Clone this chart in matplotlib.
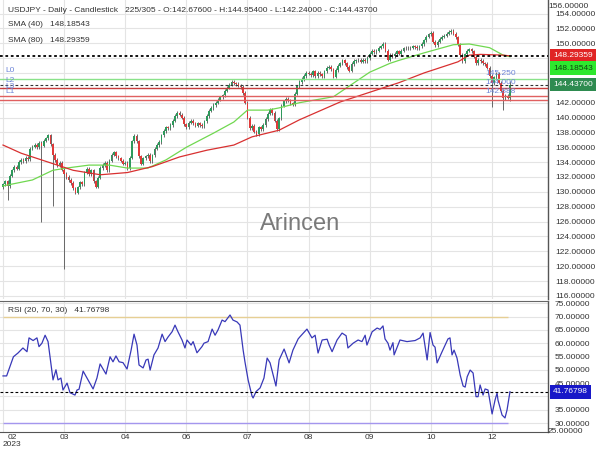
import matplotlib
matplotlib.use('Agg')
import matplotlib.pyplot as plt
import numpy as np
from matplotlib.transforms import blended_transform_factory

plt.rcParams['font.family'] = ['Liberation Sans', 'DejaVu Sans']

# ---------------- data ----------------
closes = [
    131.0, 131.4, 130.8, 132.2, 132.9, 133.4, 133.1, 134.0, 134.3, 134.1, 134.6, 134.4, 135.8, 136.1, 136.3,
    136.0, 136.6, 136.2, 136.9, 137.2, 137.6, 136.4, 135.0, 134.3, 133.6, 133.9, 133.0, 132.4, 132.0, 131.6,
    131.2, 130.5, 129.9, 130.6, 131.3, 131.0, 132.6, 133.1, 132.4, 132.9, 131.4, 130.7, 131.9, 133.2, 133.6,
    133.9, 132.9, 134.2, 135.0, 135.3, 134.8, 134.5, 134.2, 133.8, 133.9, 133.2, 134.6, 136.8, 137.5, 136.8,
    134.8, 133.8, 134.5, 134.8, 135.0, 134.1, 134.9, 135.8, 136.3, 136.7, 137.6, 138.2, 138.7, 138.6, 139.0,
    139.6, 140.2, 140.6, 140.4, 140.0, 139.1, 138.7, 139.3, 139.6, 139.2, 138.9, 139.2, 139.0, 138.8, 139.5,
    140.2, 140.9, 141.3, 141.7, 142.0, 142.4, 142.7, 143.0, 143.6, 144.0, 144.4, 144.8, 144.6, 144.5, 144.3,
    144.1, 143.3, 142.0, 140.0, 138.6, 138.9, 138.1, 137.8, 138.7, 138.4, 139.0, 139.8, 140.5, 141.0, 140.6,
    139.6, 138.4, 139.9, 141.6, 142.2, 142.5, 142.3, 141.9, 141.8, 143.2, 144.2, 144.8, 145.2, 145.6, 146.0,
    145.9, 145.7, 146.2, 145.6, 146.0, 145.8, 145.6, 146.2, 146.7, 146.8, 146.5, 145.5, 146.4, 147.0, 147.3,
    147.7, 147.3, 146.8, 146.3, 147.2, 147.6, 147.7, 147.8, 147.5, 147.8, 147.6, 148.0, 148.6, 149.0, 148.8,
    149.0, 149.4, 149.6, 149.9, 149.0, 147.8, 148.4, 148.3, 148.6, 148.9, 148.6, 149.0, 149.3, 149.4, 149.3,
    149.4, 149.6, 149.5, 149.3, 149.6, 149.9, 150.4, 150.9, 151.2, 151.4, 150.2, 149.7, 150.2, 150.6, 150.9,
    151.0, 151.3, 151.5, 151.7, 151.3, 150.8, 149.8, 148.4, 147.6, 148.5, 149.0, 149.2, 148.9, 148.2, 147.3,
    147.8, 147.6, 147.3, 147.2, 146.7, 145.6, 144.6, 145.4, 145.9, 144.7, 143.6, 142.6, 142.9, 142.676, 144.437,
]
first_open = 130.6
low_spikes = {2: 128.9, 17: 126.0, 22: 128.1, 27: 119.6, 216: 141.4, 221: 141.0, 224: 142.24}
high_spikes = {224: 144.954}

sma40_idx = [0, 13, 22, 28, 38, 47, 55, 64, 72, 81, 93, 102, 108, 117, 122, 131, 146, 162, 171,
             175, 186, 199, 206, 215, 221, 224]
sma40_val = [130.8, 131.6, 132.9, 133.2, 133.6, 133.6, 133.2, 133.2, 134.3, 136.0, 137.9, 139.4, 141.0,
             141.0, 141.3, 142.0, 142.8, 146.1, 147.3, 147.7, 148.7, 149.8, 149.9, 149.4, 148.4, 148.18543]

sma80_idx = [0, 8, 21, 31, 43, 55, 66, 78, 90, 102, 110, 122, 131, 149, 175, 186, 201, 206, 211, 221, 224]
sma80_val = [136.3, 135.2, 133.9, 132.9, 132.3, 132.6, 133.4, 134.7, 135.6, 136.3, 137.4, 138.3, 139.7,
             142.1, 144.7, 146.0, 147.5, 148.4, 148.5, 148.4, 148.29359]

rsi_idx = [0, 1.6, 4.6, 6.6, 8.8, 10.6, 11.5, 13.3, 15.0, 15.9, 17.2, 18.6, 19.9, 22.1, 23.4, 24.3, 25.6,
           26.5, 28.3, 29.6, 31.8, 32.7, 33.6, 35.4, 37.1, 39.8, 41.5, 42.9, 45.5, 47.3, 48.6, 49.9, 51.3,
           53.0, 54.8, 56.6, 57.9, 59.2, 60.1, 61.9, 63.2, 64.1, 65.0, 66.7, 68.5, 70.3, 71.6, 72.9, 74.7,
           76.0, 77.3, 79.1, 80.4, 81.3, 83.1, 84.0, 85.7, 87.9, 88.8, 90.6, 92.4, 93.7, 95.0, 96.8, 98.1,
           100.3, 101.6, 103.4, 104.7, 106.1, 106.9, 108.3, 110.0, 110.5, 111.8, 113.6, 115.3, 116.7, 118.0,
           120.6, 122.0, 124.2, 126.4, 128.1, 130.4, 131.2, 134.3, 136.5, 137.9, 139.2, 141.0, 143.2, 144.1,
           145.4, 147.6, 149.8, 151.6, 152.4, 154.7, 156.9, 158.6, 160.0, 160.8, 163.1, 165.3, 166.6, 167.9,
           168.8, 170.1, 171.0, 172.3, 172.8, 175.4, 178.5, 182.1, 184.3, 185.6, 187.4, 188.7, 190.0, 190.9,
           191.8, 194.0, 196.6, 197.5, 198.4, 199.3, 200.6, 202.0, 203.3, 204.2, 205.1, 206.4, 207.7, 209.0,
           209.9, 210.8, 212.1, 213.0, 214.3, 216.1, 217.4, 218.3, 218.7, 220.5, 221.8, 222.7, 224]
rsi_val = [47.7, 47.7, 54.9, 56.3, 58.2, 56.8, 62.0, 61.0, 62.0, 58.7, 60.0, 63.0, 60.6, 46.2, 50.0, 46.2,
           46.9, 42.4, 45.0, 41.4, 40.5, 42.4, 42.7, 49.5, 46.9, 42.8, 46.9, 52.2, 48.4, 54.9, 53.0, 55.2,
           53.0, 52.7, 50.3, 57.4, 63.4, 59.3, 51.8, 50.7, 53.7, 54.0, 49.9, 55.6, 58.2, 63.4, 60.6, 62.3,
           64.3, 66.8, 64.3, 61.2, 58.2, 61.2, 59.3, 60.6, 56.4, 58.7, 60.0, 60.6, 65.3, 63.0, 65.0, 68.7,
           68.1, 70.6, 68.7, 68.0, 66.8, 57.4, 53.0, 46.2, 40.2, 39.4, 41.8, 43.2, 46.9, 54.4, 52.6, 43.9,
           53.7, 57.8, 52.6, 57.4, 61.6, 62.4, 65.3, 62.0, 63.0, 56.3, 61.2, 61.5, 59.3, 56.8, 61.2, 63.8,
           62.8, 58.2, 60.0, 61.2, 60.6, 63.0, 59.3, 64.3, 65.7, 65.2, 66.5, 61.6, 60.0, 57.4, 60.2, 55.6,
           61.2, 60.6, 61.0, 62.0, 63.8, 53.7, 64.0, 59.3, 58.5, 52.6, 56.8, 61.6, 62.0, 55.6, 57.4, 54.4,
           48.0, 43.9, 43.5, 47.4, 49.9, 48.8, 39.9, 39.9, 44.3, 40.5, 42.8, 42.4, 33.4, 38.6, 41.3, 38.6,
           33.0, 31.9, 34.9, 41.76798]

level_green = 145.25
levels_red = [144.0, 142.888, 142.36]
right_level_labels = ['145.250', '144.000', '142.888']
left_level_labels = ['L0', 'L2', 'L3', 'L1']

price_ticks = list(range(116, 155, 2))
hidden_price_ticks = [144, 146, 148]     # covered by the value boxes
rsi_ticks = list(range(30, 76, 5))
hidden_rsi_ticks = [40]

tick_idx = [0, 27, 54, 81, 108, 135, 162, 189, 216]
tick_labels = ['', '03', '04', '06', '07', '08', '09', '10', '12']

# ---------------- figure ----------------
W, H = 600, 450
fig = plt.figure(figsize=(6, 4.5), dpi=100)
ax = fig.add_axes([0, 1 - 299 / H, 548 / W, 299 / H])
ax2 = fig.add_axes([0, 1 - 431.7 / H, 548 / W, (431.7 - 300.5) / H])

n = len(closes)
x = np.arange(n)
closes_a = np.array(closes)
opens_a = np.concatenate([[first_open], closes_a[:-1]])
top = np.maximum(opens_a, closes_a)
bot = np.minimum(opens_a, closes_a)
highs = top + 0.22
lows = bot - 0.22
for k, v in low_spikes.items():
    lows[k] = v
for k, v in high_spikes.items():
    highs[k] = v

xmin, xmax = -1.33, 240.8
for a in (ax, ax2):
    a.set_xlim(xmin, xmax)
    a.set_xticks(tick_idx)
    a.grid(True, color='#e4e4e4', lw=0.8)
    a.set_axisbelow(True)
    a.yaxis.tick_right()
    a.tick_params(axis='y', length=0, pad=5, labelsize=6, colors='#333333')
    a.tick_params(axis='x', length=0)
    for s in ('left', 'top', 'bottom'):
        a.spines[s].set_visible(False)
    a.spines['right'].set_color('#555555')
    a.spines['right'].set_linewidth(1.0)
    a.set_facecolor('white')

# main panel
ax.set_ylim(115.58, 155.82)
ax.set_yticks(price_ticks)
ax.set_yticklabels(['' if v in hidden_price_ticks else f'{v:.5f}' for v in price_ticks])
ax.set_xticklabels([])

up = closes_a >= opens_a
col = np.where(up, '#2e9a5c', '#e03a3a')
ax.vlines(x, lows, highs, color='#5e5e5e', lw=0.65, zorder=2)
ax.bar(x, np.maximum(top - bot, 0.1), bottom=bot, width=0.75, color=col, zorder=2.2, linewidth=0)

ax.plot(sma40_idx, sma40_val, color='#70d850', lw=0.9, zorder=3)
ax.plot(sma80_idx, sma80_val, color='#d83030', lw=0.9, zorder=3)

ax.axhline(level_green, color='#8ae28a', lw=1.0, zorder=3.5)
ax.axhline(levels_red[0], color='#c83c3c', lw=1.0, zorder=3.5)
ax.axhline(levels_red[1], color='#e06060', lw=1.0, zorder=3.5)
ax.axhline(levels_red[2], color='#e06060', lw=1.0, zorder=3.5)
ax.axhline(148.29359, color='black', ls=(0, (1.5, 1.5)), lw=1.3, zorder=4)
ax.axhline(closes[-1], color='#333333', ls=(0, (2.5, 2)), lw=0.8, zorder=4)

lev_col = '#6f86d8'
for lab, yv in zip(left_level_labels, [146.3, 145.0, 144.2, 143.45]):
    ax.text(1.0, yv, lab, fontsize=6, color=lev_col, va='center', ha='left', zorder=5)
for lab, lv in zip(right_level_labels, [level_green] + levels_red[:2]):
    ax.annotate(lab, xy=(213, lv), xytext=(0, 3.5), textcoords='offset points',
                fontsize=6, color=lev_col, va='center', ha='left', zorder=5)

# top label 156
ax.text(1.0, 1 - 6 / 299, '156.00000', transform=ax.transAxes, fontsize=6, color='#333333',
        va='center', ha='left', clip_on=False)


def box(a, val, txt, fc, tc, dy=0):
    t = blended_transform_factory(a.transAxes, a.transData)
    a.annotate(txt, xy=(1, val), xycoords=t, xytext=(3.5, dy), textcoords='offset points',
               fontsize=6, color=tc, va='center', ha='left', annotation_clip=False, zorder=10,
               bbox=dict(boxstyle='square,pad=0.4', fc=fc, ec='none'))


box(ax, 148.29359, '148.29359', '#e02424', 'white', 0)
box(ax, 148.18543, '148.18543', '#2ee82e', '#114411', -8.3)
box(ax, closes[-1], '144.43700', '#2e8b50', 'white', 0)

# RSI panel
ax2.set_ylim(26.73, 76.05)
ax2.set_yticks(rsi_ticks)
ax2.set_yticklabels(['' if v in hidden_rsi_ticks else f'{v:.5f}' for v in rsi_ticks])
ax2.spines['top'].set_visible(True)
ax2.spines['top'].set_color('#666666')
ax2.spines['bottom'].set_visible(True)
ax2.spines['bottom'].set_color('#555555')
ax2.set_xticklabels(tick_labels)
ax2.tick_params(axis='x', labelsize=6, colors='#333333', pad=2)
ax2.hlines(70, 0, 223, color='#e6cf94', lw=1.0, zorder=2)
ax2.hlines(30, 0, 223, color='#a496ee', lw=1.0, zorder=2)
ax2.plot(rsi_idx, rsi_val, color='#3838b8', lw=0.9, zorder=3)
ax2.axhline(rsi_val[-1], color='black', ls=(0, (2.5, 2)), lw=0.8, zorder=4)
ax2.text(1.0, 0.0, '25.00000', transform=ax2.transAxes, fontsize=6, color='#333333',
         va='center', ha='left', clip_on=False)
box(ax2, rsi_val[-1], '41.76798', '#1818c8', 'white', 0)

# texts
tc = '#333333'
fig.text(8 / W, 1 - 10 / H,
         'USDJPY - Daily - Candlestick   225/305 - O:142.67600 - H:144.95400 - L:142.24000 - C:144.43700',
         fontsize=6, color=tc, va='center', ha='left')
fig.text(8 / W, 1 - 25 / H, 'SMA (40)   148.18543', fontsize=6, color=tc, va='center', ha='left')
fig.text(8 / W, 1 - 40 / H, 'SMA (80)   148.29359', fontsize=6, color=tc, va='center', ha='left')
fig.text(8 / W, 1 - 311 / H, 'RSI (20, 70, 30)   41.76798', fontsize=6, color=tc, va='center', ha='left')
fig.text(12 / W, 1 - 434 / H, '02\n2023', fontsize=6, color=tc, va='top', ha='center', linespacing=1.0)
fig.text(0.5, 1 - 224 / H, 'Arincen', fontsize=17, color='#7a7a7a', ha='center', va='center')

fig.savefig('out.png', dpi=100)
